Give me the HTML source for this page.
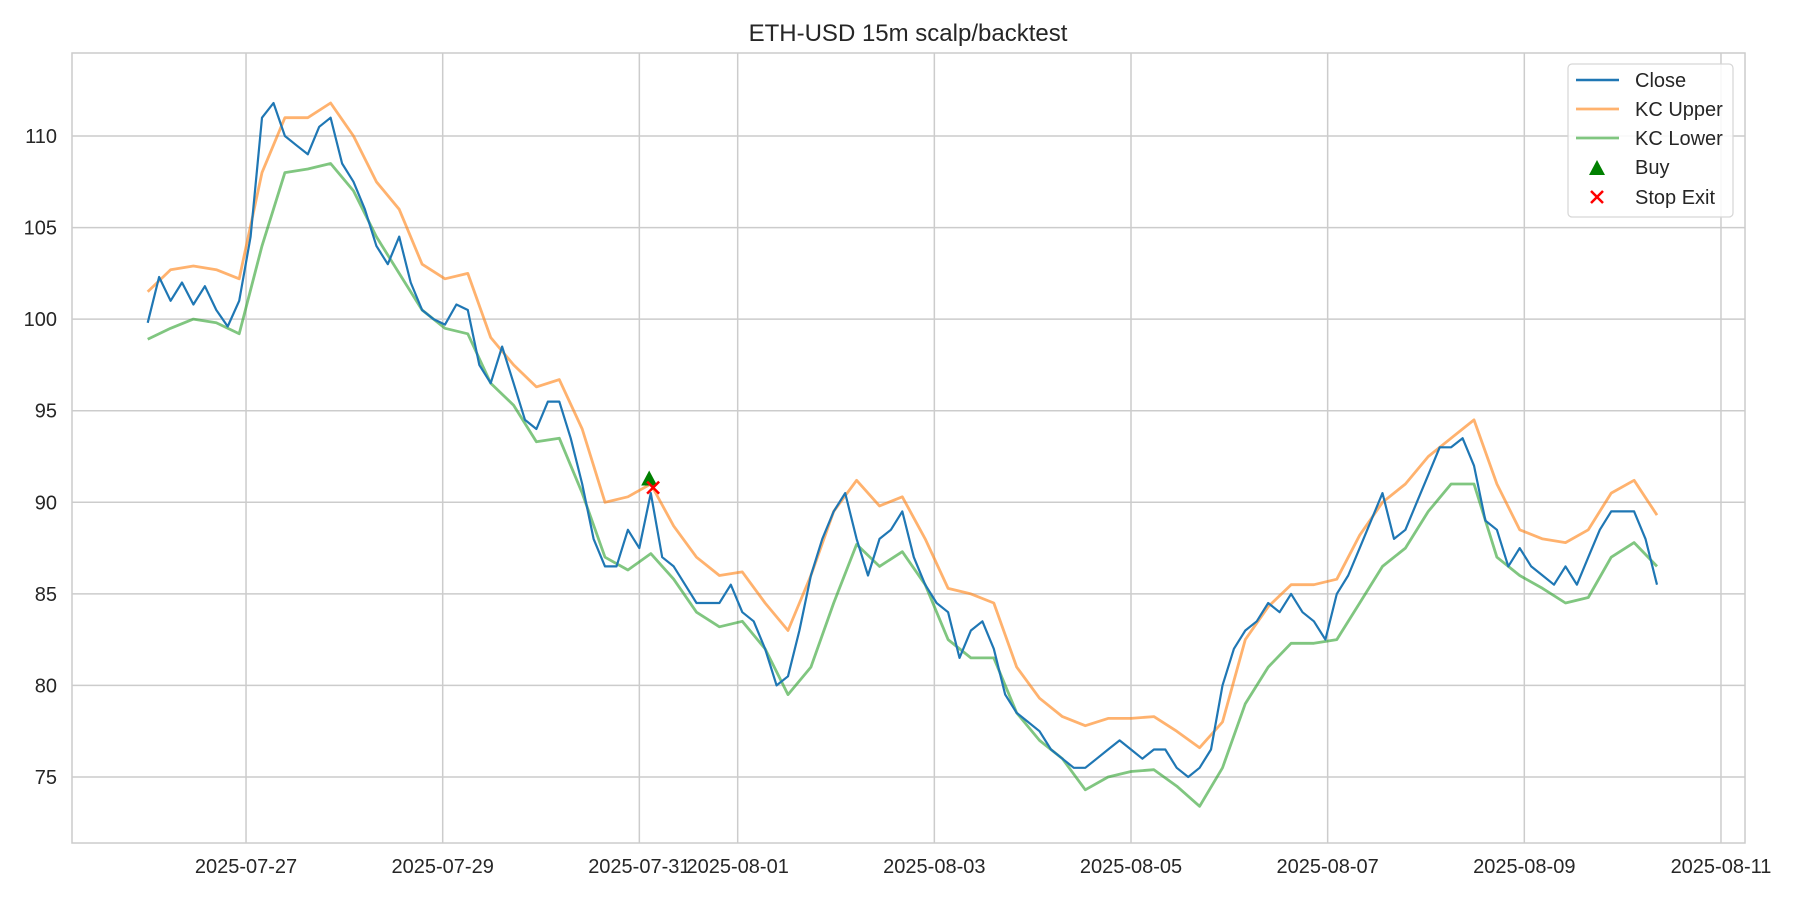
<!DOCTYPE html>
<html><head><meta charset="utf-8"><title>ETH-USD 15m scalp/backtest</title>
<style>
html,body{margin:0;padding:0;background:#fff;}
svg{display:block;font-family:"Liberation Sans",Arial,sans-serif;}
</style></head>
<body>
<svg id="chart" width="1800" height="900" viewBox="0 0 1800 900" xmlns="http://www.w3.org/2000/svg">
<rect x="0" y="0" width="1800" height="900" fill="#fff"/>
<text x="908" y="41" font-size="24" fill="#262626" text-anchor="middle">ETH-USD 15m scalp/backtest</text>
<g id="grid"></g>
<rect x="72" y="53" width="1673" height="790" fill="none" stroke="#cccccc" stroke-width="1.5"/>
<g id="series"></g>
<g id="ticks"></g>
<g>
<rect x="1568" y="64" width="165" height="153" rx="4" fill="#fff" fill-opacity="0.85" stroke="#d6d6d6" stroke-width="1.2"/>
<line x1="1576" y1="80" x2="1619" y2="80" stroke="#1f77b4" stroke-width="2.4"/>
<text x="1635" y="87" font-size="20" fill="#262626">Close</text>
<line x1="1576" y1="109" x2="1619" y2="109" stroke="#ffb26e" stroke-width="2.8"/>
<text x="1635" y="116" font-size="20" fill="#262626">KC Upper</text>
<line x1="1576" y1="138" x2="1619" y2="138" stroke="#80c680" stroke-width="2.8"/>
<text x="1635" y="145" font-size="20" fill="#262626">KC Lower</text>
<polygon points="1597,160 1605,175 1589,175" fill="#008000"/>
<text x="1635" y="174" font-size="20" fill="#262626">Buy</text>
<path d="M1591,191 L1603,203 M1603,191 L1591,203" stroke="#ff0000" stroke-width="2.5"/>
<text x="1635" y="204" font-size="20" fill="#262626">Stop Exit</text>
</g>
</svg>
<script>
// data: close sampled every closeStepDays from start (2025-07-26 00:00)
const closeStepDays = 10/86;
const bandStepDays = 20/86;
const closeValues = [99.8,102.3,101,102,100.8,101.8,100.5,99.6,101,104.5,111,111.8,110,109.5,109,110.5,111,108.5,107.5,106,104,103,104.5,102,100.5,100,99.7,100.8,100.5,97.5,96.5,98.5,96.5,94.5,94,95.5,95.5,93.5,91,88,86.5,86.5,88.5,87.5,90.5,87,86.5,85.5,84.5,84.5,84.5,85.5,84,83.5,82,80,80.5,83,86,88,89.5,90.5,88,86,88,88.5,89.5,87,85.5,84.5,84,81.5,83,83.5,82,79.5,78.5,78,77.5,76.5,76,75.5,75.5,76,76.5,77,76.5,76,76.5,76.5,75.5,75,75.5,76.5,80,82,83,83.5,84.5,84,85,84,83.5,82.5,85,86,87.5,89,90.5,88,88.5,90,91.5,93,93,93.5,92,89,88.5,86.5,87.5,86.5,86,85.5,86.5,85.5,87,88.5,89.5,89.5,89.5,88,85.5];
const upperValues = [101.5,102.7,102.9,102.7,102.2,108,111,111,111.8,110,107.5,106,103,102.2,102.5,99,97.5,96.3,96.7,94,90,90.3,91,88.7,87,86,86.2,84.5,83,86,89.5,91.2,89.8,90.3,88,85.3,85,84.5,81,79.3,78.3,77.8,78.2,78.2,78.3,77.5,76.6,78,82.5,84.3,85.5,85.5,85.8,88.2,90,91,92.5,93.5,94.5,91,88.5,88,87.8,88.5,90.5,91.2,89.3];
const lowerValues = [98.9,99.5,100,99.8,99.2,104,108,108.2,108.5,107,104.5,102.5,100.5,99.5,99.2,96.5,95.3,93.3,93.5,90.5,87,86.3,87.2,85.8,84,83.2,83.5,82,79.5,81,84.5,87.7,86.5,87.3,85.5,82.5,81.5,81.5,78.5,77,76,74.3,75,75.3,75.4,74.5,73.4,75.5,79,81,82.3,82.3,82.5,84.5,86.5,87.5,89.5,91,91,87,86,85.3,84.5,84.8,87,87.8,86.5];
const buyTimes = [5.1];
const buyPrices = [91.3];
const stopTimes = [5.14];
const stopPrices = [90.8];
const yTicks = [75,80,85,90,95,100,105,110];
const xTickDays = [1,3,5,6,8,10,12,14,16];
const xTickLabels = ["2025-07-27","2025-07-29","2025-07-31","2025-08-01","2025-08-03","2025-08-05","2025-08-07","2025-08-09","2025-08-11"];

const NS = "http://www.w3.org/2000/svg";
function xs(t){ return 147.7 + 98.33*t; }
function ys(v){ return 136 + (110 - v)*18.314; }
function mk(tag, attrs, parent){
  const e = document.createElementNS(NS, tag);
  for (const k in attrs) e.setAttribute(k, attrs[k]);
  parent.appendChild(e);
  return e;
}
const grid = document.getElementById('grid');
const ticks = document.getElementById('ticks');
const series = document.getElementById('series');

yTicks.forEach(v => {
  const l = mk('line', {x1:72, x2:1745, y1:ys(v), y2:ys(v), stroke:'#cccccc', 'stroke-width':1.5}, grid);
  
  
  const t = mk('text', {x:57, y:ys(v)+7, 'font-size':20, fill:'#262626', 'text-anchor':'end'}, ticks);
  t.textContent = v;
  
  
});
xTickDays.forEach((d, i) => {
  const l = mk('line', {x1:xs(d), x2:xs(d), y1:53, y2:843, stroke:'#cccccc', 'stroke-width':1.5}, grid);
  
  
  const t = mk('text', {x:xs(d), y:873, 'font-size':20, fill:'#262626', 'text-anchor':'middle'}, ticks);
  t.textContent = xTickLabels[i];
  
  
});

function pathFor(vals, step){
  return vals.map((v,i) => (i ? 'L' : 'M') + xs(i*step).toFixed(1) + ',' + ys(v).toFixed(1)).join(' ');
}
const up = mk('path', {d:pathFor(upperValues, bandStepDays), fill:'none', stroke:'#ff7f0e', 'stroke-opacity':0.6, 'stroke-width':2.8, 'stroke-linejoin':'round'}, series);


const lo = mk('path', {d:pathFor(lowerValues, bandStepDays), fill:'none', stroke:'#2ca02c', 'stroke-opacity':0.6, 'stroke-width':2.8, 'stroke-linejoin':'round'}, series);


const cl = mk('path', {d:pathFor(closeValues, closeStepDays), fill:'none', stroke:'#1f77b4', 'stroke-width':2.2, 'stroke-linejoin':'round'}, series);



buyTimes.forEach((t, i) => {
  const x = xs(t), y = ys(buyPrices[i]);
  const p = mk('polygon', {points:`${x},${y-8} ${x+8},${y+7} ${x-8},${y+7}`, fill:'#008000'}, series);
  
  
});
stopTimes.forEach((t, i) => {
  const x = xs(t), y = ys(stopPrices[i]);
  const p = mk('path', {d:`M${x-6},${y-6} L${x+6},${y+6} M${x+6},${y-6} L${x-6},${y+6}`, stroke:'#ff0000', 'stroke-width':2.5}, series);
  
  
});
</script>
</body></html>
